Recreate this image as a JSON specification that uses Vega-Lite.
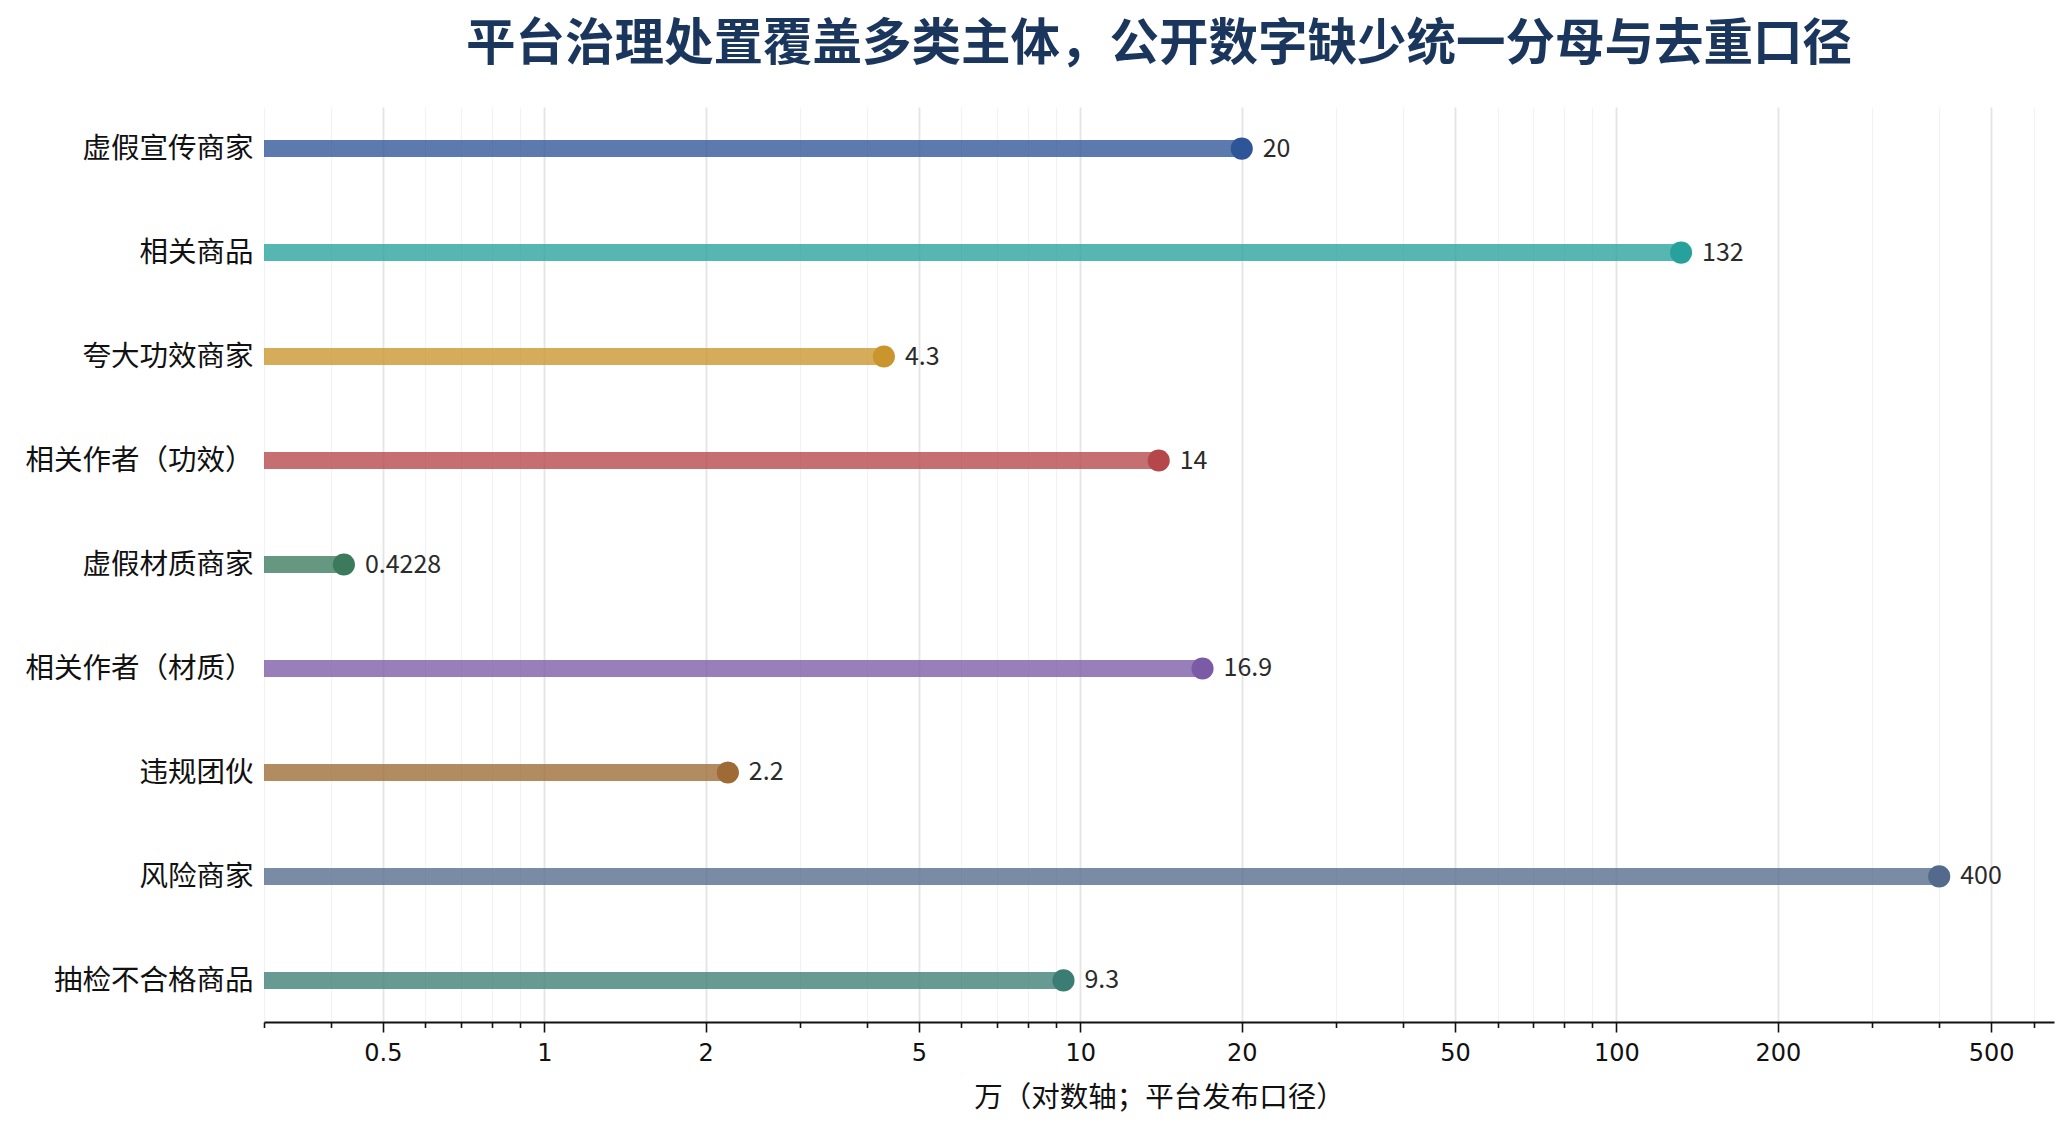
{
  "$schema": "https://vega.github.io/schema/vega-lite/v6.json",
  "autosize": {"type": "none"},
  "width": 1790,
  "height": 915,
  "padding": {"left": 264, "top": 107, "right": 15, "bottom": 113},
  "background": "white",
  "title": {
    "text": "平台治理处置覆盖多类主体，公开数字缺少统一分母与去重口径",
    "font": "Noto Sans CJK SC",
    "fontSize": 49.5,
    "fontWeight": "bold",
    "color": "#1b365d",
    "anchor": "middle",
    "offset": 37
  },
  "data": {
    "values": [
      {"label": "虚假宣传商家", "value": 20},
      {"label": "相关商品", "value": 132},
      {"label": "夸大功效商家", "value": 4.3},
      {"label": "相关作者（功效）", "value": 14},
      {"label": "虚假材质商家", "value": 0.4228},
      {"label": "相关作者（材质）", "value": 16.9},
      {"label": "违规团伙", "value": 2.2},
      {"label": "风险商家", "value": 400},
      {"label": "抽检不合格商品", "value": 9.3}
    ]
  },
  "encoding": {
    "y": {
      "field": "label",
      "type": "nominal",
      "sort": null,
      "scale": {"type": "point", "padding": 0.4},
      "axis": {
        "title": null,
        "domain": false,
        "ticks": false,
        "grid": false,
        "labelFont": "Noto Sans CJK SC",
        "labelFontSize": 28.5,
        "labelColor": "#111111",
        "labelPadding": 11,
        "labelLimit": 400
      }
    },
    "color": {
      "field": "label",
      "type": "nominal",
      "legend": null,
      "scale": {
        "domain": ["虚假宣传商家", "相关商品", "夸大功效商家", "相关作者（功效）", "虚假材质商家", "相关作者（材质）", "违规团伙", "风险商家", "抽检不合格商品"],
        "range": ["#2e5597", "#26a19c", "#c9952c", "#b5474b", "#3b7a5c", "#7b5ba6", "#9e6a35", "#536a8c", "#3b7d74"]
      }
    }
  },
  "layer": [
    {
      "mark": {"type": "rule", "strokeWidth": 17, "strokeCap": "butt", "opacity": 0.78},
      "encoding": {
        "x": {
          "field": "value",
          "type": "quantitative",
          "scale": {"type": "log", "domain": [0.3, 655], "nice": false},
          "axis": {
            "title": "万（对数轴；平台发布口径）",
            "titleFont": "Noto Sans CJK SC",
            "titleFontSize": 28.5,
            "titleFontWeight": "normal",
            "titleColor": "#111111",
            "titlePadding": 18,
            "values": [0.3, 0.4, 0.5, 0.6, 0.7, 0.8, 0.9, 1, 2, 3, 4, 5, 6, 7, 8, 9, 10, 20, 30, 40, 50, 60, 70, 80, 90, 100, 200, 300, 400, 500, 600],
            "format": "~g",
            "labelExpr": "indexof([0.5, 1, 2, 5, 10, 20, 50, 100, 200, 500], datum.value) >= 0 ? datum.label : ''",
            "labelOverlap": false,
            "labelFlush": false,
            "labelFont": "DejaVu Sans",
            "labelFontSize": 24,
            "labelColor": "#111111",
            "labelPadding": 9,
            "domainColor": "#111111",
            "domainWidth": 2.2,
            "tickColor": "#111111",
            "tickWidth": 1.6,
            "tickSize": {"condition": {"test": "indexof([0.5, 1, 2, 5, 10, 20, 50, 100, 200, 500], datum.value) >= 0", "value": 10}, "value": 5.5},
            "grid": true,
            "gridColor": {"condition": {"test": "indexof([0.5, 1, 2, 5, 10, 20, 50, 100, 200, 500], datum.value) >= 0", "value": "#e4e4e4"}, "value": "#f2f2f2"},
            "gridWidth": {"condition": {"test": "indexof([0.5, 1, 2, 5, 10, 20, 50, 100, 200, 500], datum.value) >= 0", "value": 1.8}, "value": 1.2}
          }
        },
        "x2": {"datum": 0.3}
      }
    },
    {
      "mark": {"type": "circle", "size": 490, "opacity": 1},
      "encoding": {
        "x": {"field": "value", "type": "quantitative"}
      }
    },
    {
      "mark": {"type": "text", "align": "left", "baseline": "middle", "dx": 21, "font": "Noto Sans CJK SC", "fontSize": 25, "color": "#2b2b2b"},
      "encoding": {
        "x": {"field": "value", "type": "quantitative"},
        "text": {"field": "value", "type": "quantitative", "format": "~g"},
        "color": {"value": "#2b2b2b"}
      }
    }
  ],
  "config": {
    "view": {"stroke": "transparent"}
  }
}
